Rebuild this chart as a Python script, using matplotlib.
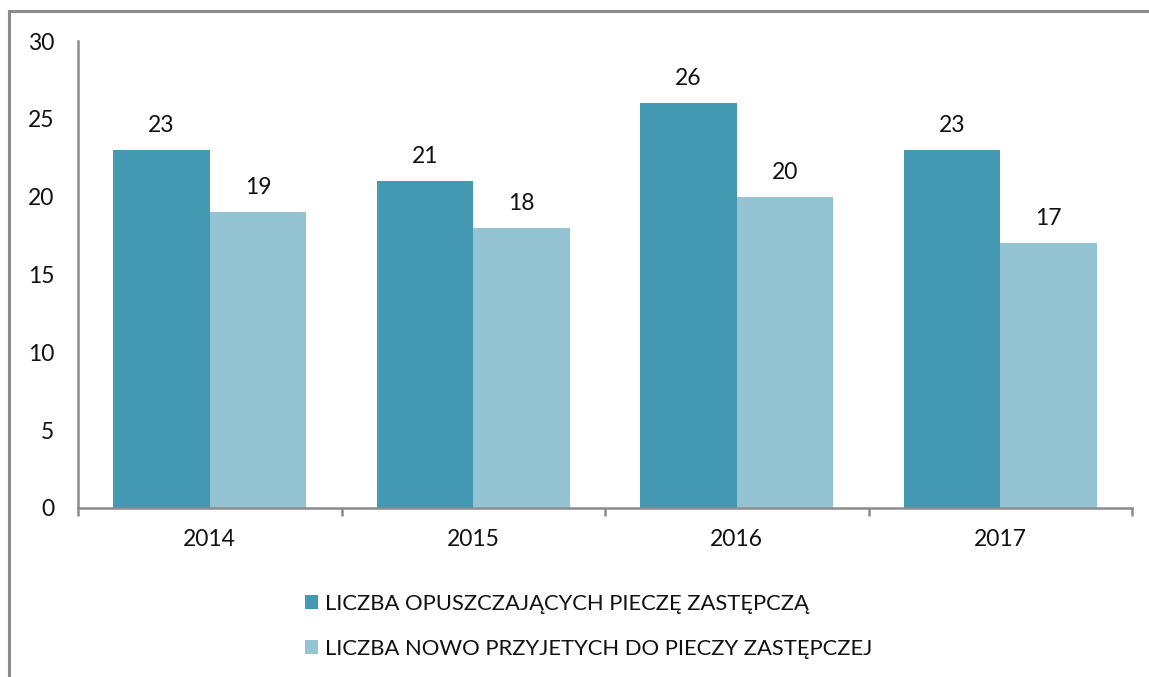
import matplotlib
matplotlib.use("Agg")
import matplotlib.pyplot as plt
from matplotlib.lines import Line2D
from matplotlib.patches import Patch
import numpy as np

years = ["2014", "2015", "2016", "2017"]
opuszczajacy = [23, 21, 26, 23]
przyjeci = [19, 18, 20, 17]
series_names = ["LICZBA OPUSZCZAJĄCYCH PIECZĘ ZASTĘPCZĄ",
                "LICZBA NOWO PRZYJETYCH DO PIECZY ZASTĘPCZEJ"]
yticks = [0, 5, 10, 15, 20, 25, 30]

dark = "#4399B1"
light = "#94C3D4"
gray = "#8C8C8C"
txt = "#111111"

plt.rcParams['font.family'] = ['Lato', 'DejaVu Sans']

W, H = 1149, 677
fig = plt.figure(figsize=(W / 100, H / 100), dpi=100)
ax = fig.add_axes([78 / W, 1 - 508 / H, (1132 - 78) / W, (508 - 41) / H])

x = np.arange(len(years))
bw = 0.366
b1 = ax.bar(x - bw / 2, opuszczajacy, bw, color=dark, label=series_names[0])
b2 = ax.bar(x + bw / 2, przyjeci, bw, color=light, label=series_names[1])

for bars, vals in ((b1, opuszczajacy), (b2, przyjeci)):
    for r, v in zip(bars, vals):
        ax.annotate(str(v), (r.get_x() + r.get_width() / 2, v),
                    xytext=(0, 10), textcoords="offset points",
                    ha="center", va="bottom", fontsize=16.5, color=txt)

ax.set_xlim(-0.5, len(years) - 0.5)
ax.set_ylim(0, 30)
ax.set_yticks(yticks)
ax.set_yticklabels([str(t) for t in yticks])
ax.set_xticks(x)
ax.set_xticklabels(years)
ax.set_xticks(np.arange(-0.5, len(years), 1.0), minor=True)

ax.tick_params(axis="y", length=0, pad=17, labelsize=16.5, labelcolor=txt)
ax.tick_params(axis="x", which="major", length=0, pad=15, labelsize=16.5, labelcolor=txt)
ax.tick_params(axis="x", which="minor", length=6, width=1.8, color=gray, direction="out")

for s in ("top", "right"):
    ax.spines[s].set_visible(False)
for s in ("left", "bottom"):
    ax.spines[s].set_color(gray)
    ax.spines[s].set_linewidth(1.8)

handles = [Patch(facecolor=dark), Patch(facecolor=light)]
leg = fig.legend(handles, series_names, loc="upper left",
                 bbox_to_anchor=(285 / W, 1 - 574 / H), frameon=False,
                 fontsize=15.8, handlelength=0.62, handleheight=0.62,
                 handletextpad=0.3, labelspacing=1.15)
for t in leg.get_texts():
    t.set_color(txt)

# outer border (left and top visible)
fig.add_artist(Line2D([9 / W, 9 / W], [0, 1 - 11 / H], transform=fig.transFigure,
                      color=gray, linewidth=2.2))
fig.add_artist(Line2D([9 / W, 1], [1 - 11 / H, 1 - 11 / H], transform=fig.transFigure,
                      color=gray, linewidth=2.2))

fig.savefig("out.png", dpi=100)
